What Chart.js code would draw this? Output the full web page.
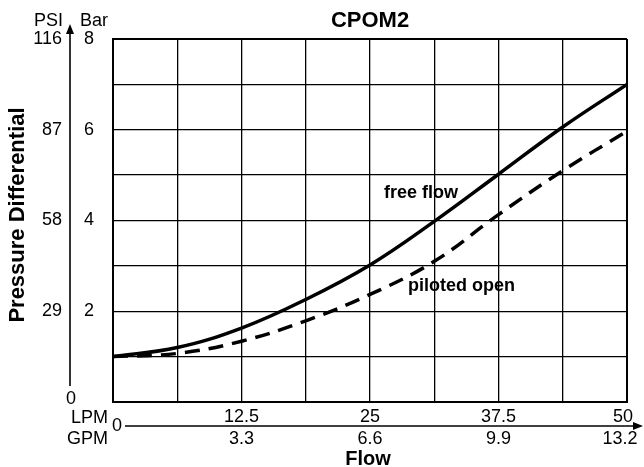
<!DOCTYPE html>
<html>
<head>
<meta charset="utf-8">
<script src="https://cdn.jsdelivr.net/npm/chart.js@4.4.1/dist/chart.umd.min.js"></script>
<style>
  body { margin: 0; background: #fff; }
  canvas { display: block; }
</style>
</head>
<body>
<canvas id="chart" width="644" height="467"></canvas>
<script>
// flow in LPM, pressure in bar
const flowLpm = [0, 6.25, 12.5, 18.75, 25, 31.25, 37.5, 43.75, 50];
const freeFlow = [1.0, 1.2, 1.63, 2.26, 3.02, 3.98, 5.02, 6.06, 7.0];
const pilotedOpen = [1.0, 1.07, 1.34, 1.79, 2.37, 3.1, 4.13, 5.1, 5.97];

const barTicks = [8, 6, 4, 2];
const psiTicks = ['116', '87', '58', '29'];
const lpmTicks = [12.5, 25, 37.5, 50];
const gpmTicks = ['3.3', '6.6', '9.9', '13.2'];

const FONT = '"Liberation Sans", Arial, Helvetica, sans-serif';

function pts(ys) {
  return flowLpm.map((x, i) => ({ x: x, y: ys[i] }));
}

const decor = {
  id: 'decor',
  afterDraw(chart) {
    const ctx = chart.ctx;
    const xs = chart.scales.x, ys = chart.scales.y;
    const area = chart.chartArea;
    ctx.save();
    ctx.fillStyle = '#000';
    ctx.strokeStyle = '#000';

    // title
    ctx.font = 'bold 22px ' + FONT;
    ctx.textAlign = 'center';
    ctx.textBaseline = 'alphabetic';
    ctx.fillText('CPOM2', (area.left + area.right) / 2, 27);

    // left axis arrow
    ctx.lineWidth = 1.6;
    ctx.beginPath();
    ctx.moveTo(70, 386);
    ctx.lineTo(70, 32);
    ctx.stroke();
    ctx.beginPath();
    ctx.moveTo(70, 24);
    ctx.lineTo(66, 34);
    ctx.lineTo(74, 34);
    ctx.closePath();
    ctx.fill();

    ctx.font = '18px ' + FONT;
    ctx.textAlign = 'right';
    ctx.fillText('PSI', 63, 26);
    ctx.textAlign = 'left';
    ctx.fillText('Bar', 80, 26);

    ctx.textBaseline = 'middle';
    barTicks.forEach((b, i) => {
      const y = ys.getPixelForValue(b);
      ctx.textAlign = 'right';
      ctx.fillText(psiTicks[i], 62, y);
      ctx.textAlign = 'left';
      ctx.fillText(String(b), 84, y);
    });
    ctx.textAlign = 'center';
    ctx.fillText('0', 71, ys.getPixelForValue(0) - 3);

    // y title
    ctx.save();
    ctx.translate(18, 215);
    ctx.rotate(-Math.PI / 2);
    ctx.font = 'bold 22px ' + FONT;
    ctx.textAlign = 'center';
    ctx.textBaseline = 'middle';
    ctx.fillText('Pressure Differential', 0, 0);
    ctx.restore();

    // bottom axis arrow
    const ay = area.bottom + 24;
    ctx.beginPath();
    ctx.moveTo(125, ay);
    ctx.lineTo(634, ay);
    ctx.stroke();
    ctx.beginPath();
    ctx.moveTo(643, ay);
    ctx.lineTo(633, ay - 4);
    ctx.lineTo(633, ay + 4);
    ctx.closePath();
    ctx.fill();

    ctx.font = '18px ' + FONT;
    ctx.textAlign = 'left';
    ctx.textBaseline = 'middle';
    ctx.fillText('0', 112, ay);
    ctx.textAlign = 'right';
    ctx.textBaseline = 'alphabetic';
    ctx.fillText('LPM', 108, ay - 3);
    ctx.fillText('GPM', 108, ay + 18);

    ctx.textAlign = 'center';
    lpmTicks.forEach((v, i) => {
      let x = xs.getPixelForValue(v);
      if (i === lpmTicks.length - 1) x -= 4;
      ctx.fillText(String(v), x, ay - 4);
      ctx.fillText(gpmTicks[i], i === lpmTicks.length - 1 ? x - 3 : x, ay + 18);
    });

    ctx.font = 'bold 20px ' + FONT;
    ctx.fillText('Flow', 368, 465);

    // curve labels
    ctx.font = 'bold 18px ' + FONT;
    ctx.textAlign = 'left';
    ctx.fillText('free flow', 384, 198);
    ctx.fillText('piloted open', 408, 291);

    ctx.restore();
  }
};

new Chart(document.getElementById('chart'), {
  type: 'line',
  data: {
    datasets: [
      {
        label: 'free flow',
        data: pts(freeFlow),
        borderColor: '#000',
        borderWidth: 3.5,
        pointRadius: 0,
        tension: 0.4
      },
      {
        label: 'piloted open',
        data: pts(pilotedOpen),
        borderColor: '#000',
        borderWidth: 3.5,
        borderDash: [15, 9],
        pointRadius: 0,
        tension: 0.4
      }
    ]
  },
  options: {
    responsive: false,
    devicePixelRatio: 1,
    animation: false,
    layout: { padding: { left: 113, right: 17, top: 39, bottom: 65 } },
    plugins: { legend: { display: false }, tooltip: { enabled: false } },
    scales: {
      x: {
        type: 'linear',
        min: 0,
        max: 50,
        ticks: { display: false, stepSize: 6.25 },
        grid: {
          color: '#000',
          drawTicks: false,
          lineWidth: c => (c.tick && (c.tick.value === 0 || c.tick.value === 50)) ? 2 : 1.3
        },
        border: { display: true, color: '#000', width: 2 }
      },
      y: {
        min: 0,
        max: 8,
        ticks: { display: false, stepSize: 1 },
        grid: {
          color: '#000',
          drawTicks: false,
          lineWidth: c => (c.tick && (c.tick.value === 0 || c.tick.value === 8)) ? 2 : 1.3
        },
        border: { display: true, color: '#000', width: 2 }
      }
    }
  },
  plugins: [decor]
});
</script>
</body>
</html>
